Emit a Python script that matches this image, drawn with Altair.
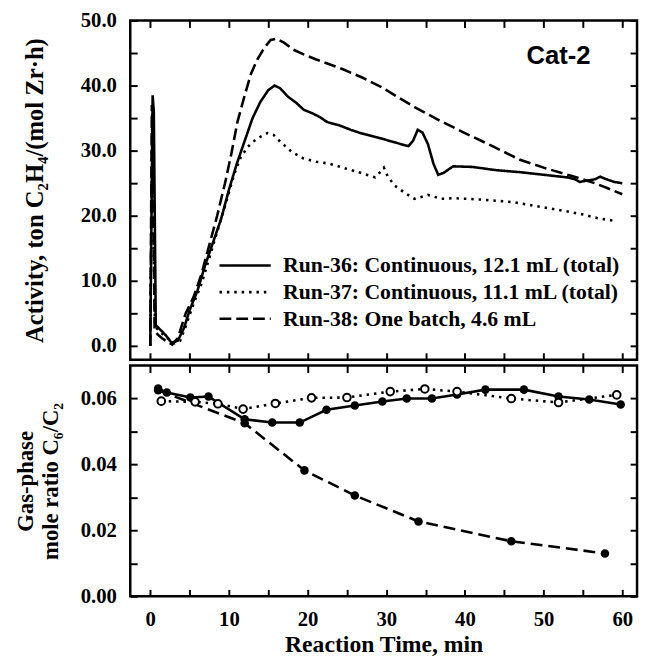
import altair as alt
import pandas as pd

# ---------------- data ----------------
labels = ["Run-36: Continuous, 12.1 mL (total)",
          "Run-37: Continuous, 11.1 mL (total)",
          "Run-38: One batch, 4.6 mL"]

t36 = [0.0, 0.3, 0.45, 0.7, 1.2, 2.0, 2.7, 3.5, 4.3, 5.0, 6.0, 7.0, 8.0, 9.0, 10.0,
       11.0, 12.0, 13.0, 14.0, 15.0, 15.8, 16.5, 17.5, 18.5, 19.5, 20.5, 21.5, 22.5,
       24.0, 25.5, 27.0, 29.0, 31.0, 32.8, 33.4, 34.0, 34.6, 35.3, 36.0, 36.6, 37.3,
       38.5, 41.0, 44.0, 47.0, 50.0, 53.0, 54.0, 54.6, 55.5, 56.5, 57.2, 58.0, 59.0, 60.0]
a36 = [0.0, 38.5, 36.0, 3.2, 2.6, 1.6, 0.5, 0.8, 2.8, 5.5, 8.5, 12.5, 16.0, 19.5, 24.0,
       28.0, 31.5, 35.0, 37.5, 39.3, 40.0, 39.6, 38.3, 37.4, 36.3, 35.8, 35.2, 34.4,
       33.9, 33.2, 32.6, 32.0, 31.3, 30.7, 31.5, 33.2, 32.8, 31.0, 28.0, 26.3, 26.6,
       27.6, 27.5, 27.0, 26.7, 26.3, 25.9, 25.6, 25.2, 25.4, 25.6, 26.0, 25.6, 25.2, 25.0]

t37 = [0.0, 0.25, 0.4, 0.6, 1.0, 1.6, 2.2, 3.0, 3.8, 4.5, 5.5, 6.5, 7.5, 8.5, 9.5,
       10.7, 11.5, 12.4, 13.5, 14.9, 15.7, 16.5, 18.0, 19.5, 21.1, 22.8, 25.3, 27.0,
       28.6, 29.3, 29.7, 30.2, 31.1, 32.5, 33.6, 35.3, 37.0, 38.6, 42.0, 46.1, 49.0,
       52.4, 55.0, 57.0, 58.6, 59.3]
a37 = [0.0, 36.0, 20.0, 3.0, 2.5, 1.8, 1.2, 0.4, 0.8, 3.0, 6.5, 9.5, 13.5, 17.5, 21.5,
       26.5, 29.0, 30.6, 31.8, 32.7, 32.4, 31.4, 29.8, 28.8, 28.3, 28.0, 27.1, 26.5,
       25.9, 26.8, 27.4, 26.0, 24.6, 23.4, 22.6, 23.2, 22.6, 22.7, 22.5, 22.1, 21.5,
       20.8, 20.2, 19.6, 19.3, 19.2]

t38 = [0.0, 0.2, 0.35, 0.55, 0.9, 1.5, 2.2, 2.8, 3.5, 4.5, 5.5, 6.5, 7.5, 8.5, 9.5,
       10.3, 11.1, 12.0, 12.8, 13.6, 14.5, 15.3, 16.0, 17.0, 18.2, 19.5, 21.1, 22.5,
       24.5, 27.0, 29.5, 31.5, 33.6, 36.5, 40.0, 43.5, 47.0, 50.0, 53.6, 55.0, 56.5,
       58.0, 60.0]
a38 = [0.0, 37.0, 30.0, 2.5, 1.8, 1.2, 0.6, 0.2, 1.2, 5.0, 7.5, 11.0, 15.5, 20.0, 25.0,
       29.5, 34.5, 38.5, 41.8, 44.0, 45.8, 47.0, 47.2, 46.6, 45.5, 44.8, 44.0, 43.4,
       42.5, 41.2, 39.7, 38.2, 36.7, 34.8, 32.7, 30.7, 28.6, 27.4, 26.1, 25.6, 25.0,
       24.3, 23.3]

b36_t = [1.0, 2.1, 5.1, 7.4, 12.0, 15.5, 19.0, 22.4, 26.0, 29.5, 32.6, 35.8, 39.0,
         42.6, 47.5, 51.9, 55.8, 59.8]
b36_v = [0.0630, 0.0618, 0.0603, 0.0606, 0.0537, 0.0527, 0.0527, 0.0566, 0.0579,
         0.0591, 0.0600, 0.0600, 0.0612, 0.0627, 0.0627, 0.0606, 0.0597, 0.0582]
b37_t = [1.4, 5.7, 8.6, 11.8, 15.9, 20.5, 25.0, 30.5, 34.9, 39.0, 45.9, 51.9, 59.3]
b37_v = [0.0592, 0.0590, 0.0584, 0.0568, 0.0585, 0.0602, 0.0603, 0.0621, 0.0629,
         0.0621, 0.0600, 0.0588, 0.0611]
b38_t = [1.0, 12.0, 19.6, 26.0, 34.1, 45.9, 57.8]
b38_v = [0.0625, 0.0525, 0.0382, 0.0306, 0.0227, 0.0167, 0.0130]

x_label_vals = [0, 10, 20, 30, 40, 50, 60]
x_tick_vals = [0, 5, 10, 15, 20, 25, 30, 35, 40, 45, 50, 55, 60]
y1_label_vals = [0, 10, 20, 30, 40, 50]
y1_tick_vals = [0, 5, 10, 15, 20, 25, 30, 35, 40, 45, 50]
y2_label_vals = [0.0, 0.02, 0.04, 0.06]
y2_tick_vals = [0.0, 0.01, 0.02, 0.03, 0.04, 0.05, 0.06]

# ---------------- layout ----------------
W = 514
H1 = 344
H2 = 234
XDOM = [-2.545, 61.88]
Y1DOM = [-2.1, 50.0]
Y2DOM = [0.0, 0.07]
SERIF = "Liberation Serif"
LW = 2.6

top_df = pd.concat([
    pd.DataFrame({"t": t36, "a": a36, "run": labels[0]}),
    pd.DataFrame({"t": t37, "a": a37, "run": labels[1]}),
    pd.DataFrame({"t": t38, "a": a38, "run": labels[2]}),
], ignore_index=True)

bot36 = pd.DataFrame({"t": b36_t, "v": b36_v})
bot37 = pd.DataFrame({"t": b37_t, "v": b37_v})
bot38 = pd.DataFrame({"t": b38_t, "v": b38_v})

xs = alt.Scale(domain=XDOM, nice=False, zero=False)
y1s = alt.Scale(domain=Y1DOM, nice=False, zero=False)
y2s = alt.Scale(domain=Y2DOM, nice=False, zero=False)


def tick_axis(orient, offset, values):
    return alt.Axis(orient=orient, offset=offset, values=values, labels=False,
                    ticks=True, tickSize=7, tickWidth=2, tickColor="black",
                    domain=False, grid=False, title=None)


# ---------------- top panel ----------------
base_top = alt.Chart(top_df)

lines_top = base_top.mark_line(strokeWidth=LW, color="black").encode(
    x=alt.X("t:Q", scale=xs, axis=tick_axis("bottom", -H1, x_tick_vals)),
    y=alt.Y("a:Q", scale=y1s, axis=alt.Axis(
        orient="left", values=y1_label_vals, format=".1f", ticks=False, tickSize=0,
        domain=False, grid=False, labelPadding=14, titleFontSize=25,
        title="Activity, ton C₂H₄/(mol Zr·h)", titlePadding=33)),
    strokeDash=alt.StrokeDash("run:N", scale=alt.Scale(
        domain=labels, range=[[1, 0], [2.5, 5], [12, 5]]),
        legend=alt.Legend(orient="none", legendX=102, legendY=234, title=None,
                          symbolType="M-2,0H2", symbolSize=676,
                          symbolStrokeWidth=LW, symbolStrokeColor="black",
                          labelFont=SERIF, labelFontWeight="bold", labelFontSize=22,
                          labelColor="black", labelOffset=24, rowPadding=1,
                          labelLimit=0, padding=0)),
    order=alt.Order("t:Q"),
)

ticks_top_a = base_top.mark_line(strokeOpacity=0).encode(
    x=alt.X("t:Q", scale=xs, axis=tick_axis("top", -H1, x_tick_vals)),
    y=alt.Y("a:Q", scale=y1s, axis=tick_axis("right", -W, y1_tick_vals)),
)
ticks_top_b = base_top.mark_line(strokeOpacity=0).encode(
    x=alt.X("t:Q", scale=xs, axis=None),
    y=alt.Y("a:Q", scale=y1s, axis=tick_axis("left", -W, y1_tick_vals)),
)

cat_df = pd.DataFrame({"t": [51.9], "a": [44.5], "txt": ["Cat-2"]})
cat_text = alt.Chart(cat_df).mark_text(
    font="Liberation Sans", fontWeight="bold", fontSize=26, color="black"
).encode(
    x=alt.X("t:Q", scale=xs, axis=None),
    y=alt.Y("a:Q", scale=y1s, axis=None),
    text="txt:N",
)

top = alt.layer(lines_top, ticks_top_a, ticks_top_b, cat_text).resolve_axis(
    x="independent", y="independent"
).properties(width=W, height=H1)

# ---------------- bottom panel ----------------
line36 = alt.Chart(bot36).mark_line(strokeWidth=LW, color="black").encode(
    x=alt.X("t:Q", scale=xs, axis=alt.Axis(
        orient="bottom", values=x_label_vals, format="d", ticks=False, tickSize=0,
        domain=False, grid=False, labelPadding=13, titleFontSize=24,
        title="Reaction Time, min", titlePadding=3)),
    y=alt.Y("v:Q", scale=y2s, axis=alt.Axis(
        orient="left", values=y2_label_vals, format=".2f", ticks=False, tickSize=0,
        domain=False, grid=False, labelPadding=14, titleFontSize=23,
        title=["Gas-phase", "mole ratio C₆/C₂"], titlePadding=18,
        titleLineHeight=25)),
)
pts36 = alt.Chart(bot36).mark_point(filled=True, shape="circle", size=75,
                                    color="black", opacity=1).encode(
    x=alt.X("t:Q", scale=xs, axis=tick_axis("top", -H2, x_tick_vals)),
    y=alt.Y("v:Q", scale=y2s, axis=tick_axis("right", -W, y2_tick_vals)),
)
line37 = alt.Chart(bot37).mark_line(strokeWidth=LW, color="black",
                                    strokeDash=[2.5, 5]).encode(
    x=alt.X("t:Q", scale=xs, axis=tick_axis("bottom", -H2, x_tick_vals)),
    y=alt.Y("v:Q", scale=y2s, axis=tick_axis("left", -W, y2_tick_vals)),
)
line38 = alt.Chart(bot38).mark_line(strokeWidth=LW, color="black",
                                    strokeDash=[12, 6]).encode(
    x=alt.X("t:Q", scale=xs, axis=None),
    y=alt.Y("v:Q", scale=y2s, axis=None),
)
pts38 = alt.Chart(bot38).mark_point(filled=True, shape="circle", size=75,
                                    color="black", opacity=1).encode(
    x=alt.X("t:Q", scale=xs, axis=None),
    y=alt.Y("v:Q", scale=y2s, axis=None),
)
pts37 = alt.Chart(bot37).mark_point(filled=False, shape="circle", size=60,
                                    color="black", fill="white", fillOpacity=1,
                                    strokeWidth=2, opacity=1).encode(
    x=alt.X("t:Q", scale=xs, axis=None),
    y=alt.Y("v:Q", scale=y2s, axis=None),
)

bottom = alt.layer(line36, line37, line38, pts36, pts38, pts37).resolve_axis(
    x="independent", y="independent"
).properties(width=W, height=H2)

chart = alt.vconcat(top, bottom, spacing=0).properties(
    padding={"left": 6, "top": -5, "right": 0, "bottom": 0}
).configure_axis(
    labelFont=SERIF, labelFontWeight="bold", labelFontSize=21, labelColor="black",
    titleFont=SERIF, titleFontWeight="bold", titleFontSize=22, titleColor="black",
).configure_view(
    stroke="black", strokeWidth=2.5
).configure_concat(spacing=0)

chart.save("out.html", embed_options={"renderer": "svg", "actions": False})
